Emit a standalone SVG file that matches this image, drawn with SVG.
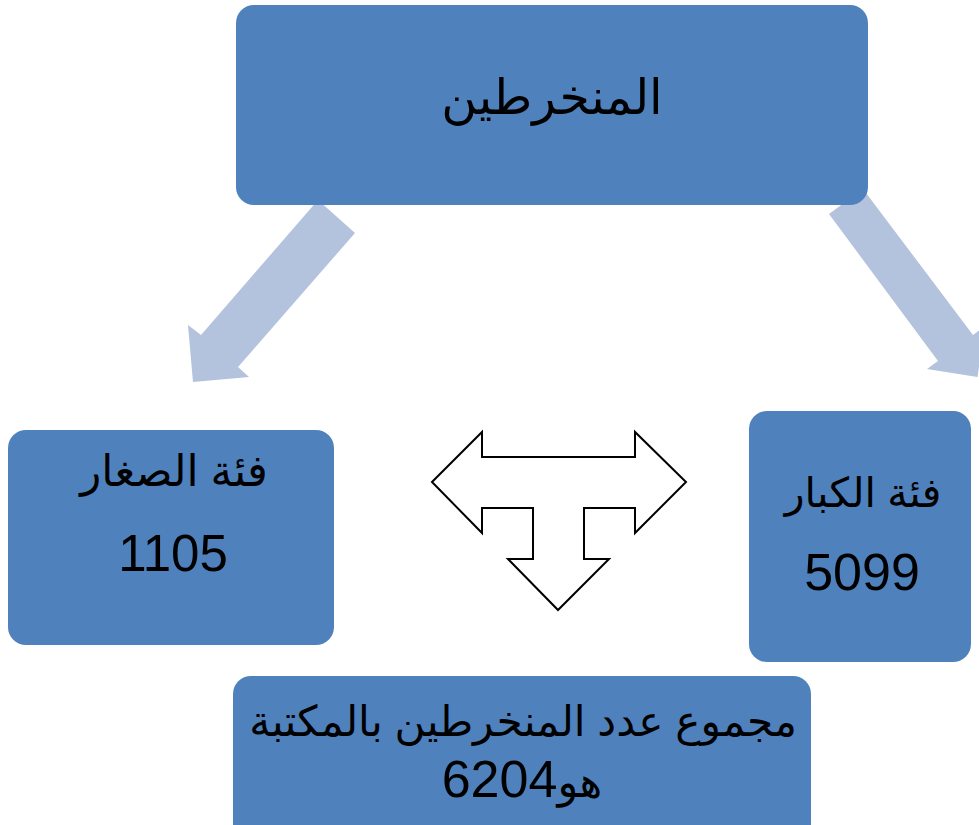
<svg xmlns="http://www.w3.org/2000/svg" width="979" height="825" viewBox="0 0 979 825">
  <style>
    .box { fill: #4F81BD; }
    .flow { fill: #B3C2DD; }
    .t { font-family: "Liberation Sans", "DejaVu Sans", Arial, sans-serif; fill: #000; text-anchor: middle; }
    .ar { direction: rtl; }
  </style>
  <rect width="979" height="825" fill="#FFFFFF"/>
  <g id="connectors">
    <polygon class="flow" points="318,200 355,233 238,367 249,377 193,382 188,325 201,335"/>
    <polygon class="flow" points="863,189 829,214 938,361 927,369 977.5,377 985,326 973,335"/>
    <polygon points="432,482 482,432 482,457 635,457 635,432 686,482 635,533 635,508 584,508 584,559 609,559 558,610 508,559 533,559 533,508 482,508 482,533" fill="#FFFFFF" stroke="#000000" stroke-width="2" stroke-linejoin="miter"/>
  </g>
  <g id="node-top">
    <rect class="box" x="236" y="5" width="632" height="200" rx="18" ry="18"/>
    <text class="t ar" x="552" y="114" font-size="49">المنخرطين</text>
  </g>
  <g id="node-small">
    <rect class="box" x="8" y="430" width="326" height="215" rx="18" ry="18"/>
    <text class="t ar" x="174" y="486" font-size="43.5">فئة الصغار</text>
    <text class="t" x="173" y="571" font-size="51">1105</text>
  </g>
  <g id="node-large">
    <rect class="box" x="749" y="411" width="222" height="251" rx="18" ry="18"/>
    <text class="t ar" x="863" y="507" font-size="41">فئة الكبار</text>
    <text class="t" x="862" y="590" font-size="52">5099</text>
  </g>
  <g id="node-total">
    <rect class="box" x="233" y="676" width="578" height="170" rx="18" ry="18"/>
    <text class="t ar" x="523" y="736" font-size="42.3">مجموع عدد المنخرطين بالمكتبة</text>
    <text class="t ar" x="522" y="797"><tspan font-size="43">هو</tspan><tspan font-size="52">6204</tspan></text>
  </g>
</svg>
